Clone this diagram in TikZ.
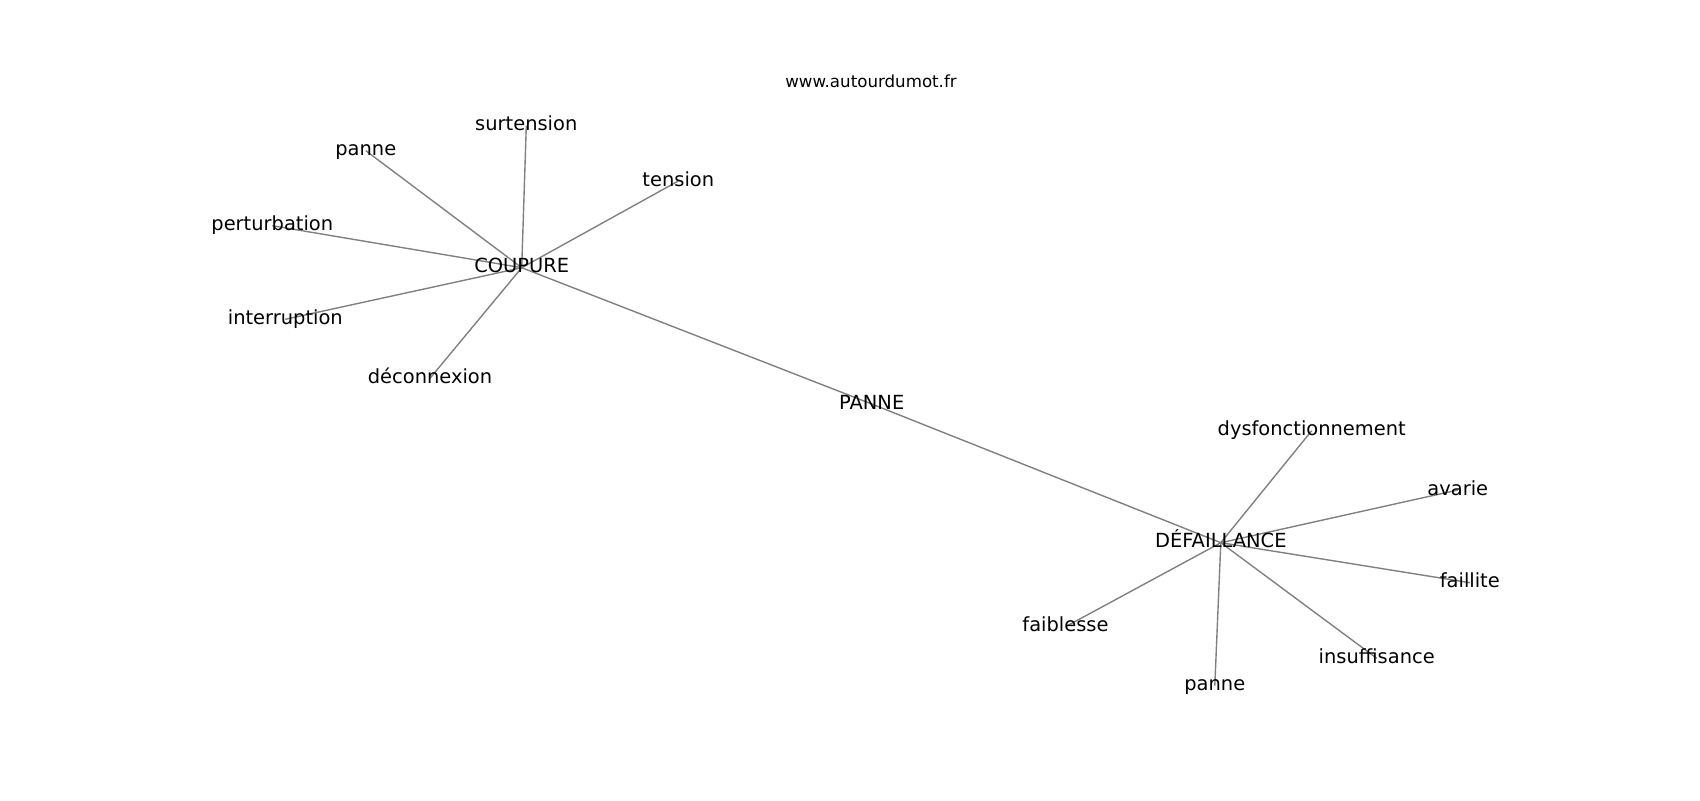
\documentclass[tikz,border=0pt]{standalone}
\usepackage{fontspec}
\setmainfont{DejaVu Sans}
\usetikzlibrary{backgrounds}
\tikzset{
  lbl/.style={inner sep=0pt, outer sep=0pt, text height=10.64pt, text depth=3.36pt,
    font=\fontsize{14}{17}\selectfont, text=black},
  ttl/.style={inner sep=0pt, outer sep=0pt, text height=9.12pt, text depth=2.88pt,
    font=\fontsize{12}{14}\selectfont, text=black},
  edge/.style={draw=gray, line width=1pt}
}
\begin{document}
\begin{tikzpicture}[x=0.72pt, y=-0.72pt]
\useasboundingbox (0,0) rectangle (1700,800);
\node[ttl] (title) at (871,83) {www.autourdumot.fr};
% centre
\node[lbl] (panne0) at (871.7,404) {PANNE};
% COUPURE group
\node[lbl] (coupure) at (521.7,267.7) {COUPURE};
\node[lbl] (surtension) at (526.3,125.7) {surtension};
\node[lbl] (panne1) at (365.8,150.7) {panne};
\node[lbl] (tension) at (678.3,181) {tension};
\node[lbl] (perturbation) at (272.3,225.7) {perturbation};
\node[lbl] (interruption) at (285.3,319.3) {interruption};
\node[lbl] (deconnexion) at (430,378.3) {déconnexion};
% DÉFAILLANCE group
\node[lbl] (defaillance) at (1220.8,542.7) {DÉFAILLANCE};
\node[lbl] (dysf) at (1311.7,430.7) {dysfonctionnement};
\node[lbl] (avarie) at (1457.8,490) {avarie};
\node[lbl] (faillite) at (1469.8,582.7) {faillite};
\node[lbl] (faiblesse) at (1065.5,626.7) {faiblesse};
\node[lbl] (insuffisance) at (1376.7,658.3) {insuffisance};
\node[lbl] (panne2) at (1214.8,685.7) {panne};
\begin{scope}[on background layer]
\fill[white] (0,0) rectangle (1700,800);
\draw[edge] (panne0.center) -- (coupure.center);
\draw[edge] (panne0.center) -- (defaillance.center);
\foreach \n in {surtension,panne1,tension,perturbation,interruption,deconnexion}
  \draw[edge] (coupure.center) -- (\n.center);
\foreach \n in {dysf,avarie,faillite,faiblesse,insuffisance,panne2}
  \draw[edge] (defaillance.center) -- (\n.center);
\end{scope}
\end{tikzpicture}
\end{document}
